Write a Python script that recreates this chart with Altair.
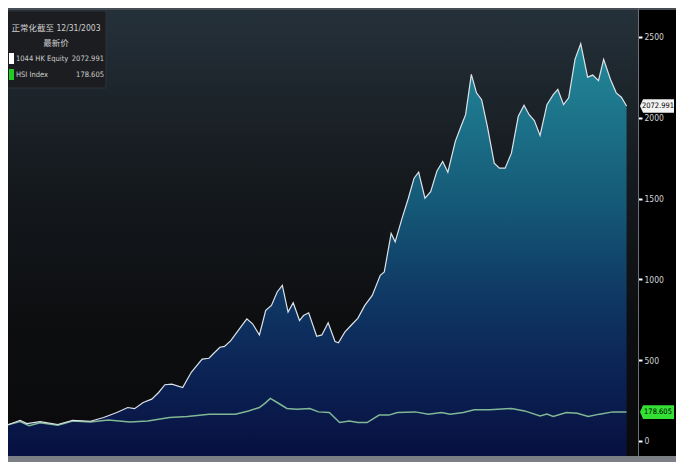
import altair as alt
import pandas as pd

# ---- data (normalised to 100 at 12/31/2003) ----
# x: months since 2003-12-31
months_eq = [0, 2.1, 3.3, 5.6, 8.7, 11.3, 14.4, 16.7, 19.0, 20.9, 22.1, 23.6, 25.1, 26.3, 27.4,
             28.6, 30.5, 32.0, 33.9, 35.1, 35.8, 37.0, 37.8, 38.9, 40.4, 41.7, 42.7, 43.9, 45.0,
             46.0, 47.0, 47.9, 48.9, 49.8, 50.9, 51.6, 52.5, 53.9, 54.8, 55.9, 57.1, 57.7, 58.8,
             60.0, 61.1, 62.3, 63.6, 65.0, 65.7, 66.9, 67.6, 68.8, 69.9, 70.9, 71.7, 72.8, 73.8,
             74.9, 75.9, 76.8, 78.1, 79.1, 79.9, 80.9, 81.8, 82.7, 83.7, 84.9, 85.8, 86.8, 87.9,
             89.1, 90.1, 91.0, 91.9, 92.9, 94.1, 95.2, 96.0, 97.0, 97.9, 99.0, 100.0, 101.2, 102.1,
             103.1, 104.0, 105.2, 106.2, 107.1, 108.0]
values_eq = [100, 128, 108, 120, 102, 128, 122, 145, 176, 207, 200, 238, 259, 300, 348,
             352, 331, 425, 507, 512, 538, 580, 585, 621, 694, 756, 725, 656, 808,
             839, 922, 963, 797, 855, 745, 776, 793, 648, 656, 731, 615, 607, 673,
             719, 760, 839, 901, 1025, 1046, 1284, 1232, 1377, 1502, 1626, 1663, 1502, 1543,
             1671, 1729, 1663, 1854, 1947, 2019, 2268, 2154, 2112, 1947, 1719, 1688, 1688, 1781,
             2009, 2077, 2019, 1982, 1891, 2081, 2143, 2175, 2081, 2123, 2361, 2458, 2251, 2264,
             2230, 2361, 2237, 2154, 2127, 2072.991]

months_hsi = [0, 2.1, 3.7, 5.6, 8.7, 11.3, 14.4, 17.5, 21.3, 24.4, 28.2, 31.3, 35.1, 39.7, 42.0,
              43.9, 44.9, 45.8, 47.0, 48.7, 50.4, 52.7, 54.2, 56.1, 57.9, 59.6, 61.1, 62.7, 64.8,
              66.5, 68.0, 71.1, 73.4, 75.7, 77.2, 79.5, 81.4, 84.1, 87.9, 90.2, 92.9, 94.1, 95.2,
              97.5, 99.4, 101.3, 103.3, 105.6, 108.0]
values_hsi = [100, 120, 95, 112, 98, 124, 118, 130, 118, 124, 145, 151, 166, 166, 186,
              207, 234, 263, 238, 201, 197, 201, 180, 176, 114, 124, 114, 114, 160,
              160, 176, 180, 166, 176, 166, 176, 193, 193, 201, 186, 155, 166, 151,
              176, 172, 151, 166, 180, 178.605]

legend_title = ["正常化截至 12/31/2003", "最新价"]
series_names = ["1044 HK Equity", "HSI Index"]
last_labels = ["2072.991", "178.605"]
last_values = [2072.991, 178.605]
y_ticks = [0, 500, 1000, 1500, 2000, 2500]

W, H = 630, 448
FONT = "'Liberation Sans Narrow', 'DejaVu Sans Condensed', 'Noto Sans CJK SC', sans-serif"

xs = alt.Scale(domain=[0, 110], nice=False, zero=False)
ys = alt.Scale(domain=[-93, 2679], nice=False, zero=False)
y_axis = alt.Axis(
    orient="right", values=y_ticks, format="d", grid=False, title=None,
    labelColor="#d4d4d4", labelFontSize=8.5, labelFont=FONT, labelPadding=2,
    tickColor="#ffffff", tickSize=4, tickWidth=2,
    domainColor="#6b7178", domainWidth=1, zindex=2)


def Y():
    return alt.Y("v:Q", scale=ys, axis=y_axis)


eq = pd.DataFrame({"m": months_eq, "v": values_eq})
hsi = pd.DataFrame({"m": months_hsi, "v": values_hsi})
one = pd.DataFrame({"a": [0]})

bg = alt.Chart(one).mark_rect(
    color=alt.Gradient(gradient="linear", x1=0, y1=0, x2=0, y2=1,
                       stops=[alt.GradientStop(offset=0, color="#25313a"),
                              alt.GradientStop(offset=0.35, color="#161b20"),
                              alt.GradientStop(offset=0.7, color="#0d0e10"),
                              alt.GradientStop(offset=1, color="#0a0a0b")])
).encode(x=alt.value(0), x2=alt.value(W), y=alt.value(0), y2=alt.value(H))

area = alt.Chart(eq).mark_area(
    color=alt.Gradient(gradient="linear", x1=0, y1=0, x2=0, y2=1,
                       stops=[alt.GradientStop(offset=0, color="#23899a"),
                              alt.GradientStop(offset=0.38, color="#155a78"),
                              alt.GradientStop(offset=0.62, color="#0f3763"),
                              alt.GradientStop(offset=0.81, color="#0b2254"),
                              alt.GradientStop(offset=1, color="#071040")])
).encode(
    x=alt.X("m:Q", scale=xs, axis=None),
    y=Y(),
    y2=alt.datum(-93),
)

line_eq = alt.Chart(eq).mark_line(color="#dde3e8", strokeWidth=1.2).encode(
    x=alt.X("m:Q", scale=xs, axis=None), y=Y())
line_hsi = alt.Chart(hsi).mark_line(color="#80b896", strokeWidth=1.5).encode(
    x=alt.X("m:Q", scale=xs, axis=None), y=Y())

tags_df = pd.DataFrame({"v": last_values, "t": last_labels, "c": ["#f2f2f2", "#33e033"]})
tag_shape = "M-1,0L-0.82,-0.4L1,-0.4L1,0.4L-0.82,0.4Z"
tags = alt.Chart(tags_df).mark_point(shape=tag_shape, size=1156, filled=True, opacity=1).encode(
    x=alt.value(649), y=Y(), color=alt.Color("c:N", scale=None))
tag_text = alt.Chart(tags_df).mark_text(fontSize=7.5, font=FONT, color="#000000").encode(
    x=alt.value(650), y=Y(), text="t:N")

top_bar = alt.Chart(one).mark_rect(color="#474d55").encode(
    x=alt.value(0), x2=alt.value(668), y=alt.value(0), y2=alt.value(2))
bottom_bar = alt.Chart(one).mark_rect(color="#7c8086").encode(
    x=alt.value(0), x2=alt.value(668), y=alt.value(H), y2=alt.value(H + 6))

legend_box = alt.Chart(one).mark_rect(color="#1b1d20", stroke="#2e3236", strokeWidth=1).encode(
    x=alt.value(-1), x2=alt.value(98), y=alt.value(3), y2=alt.value(80))
swatches = []
for c, yy in zip(["#ffffff", "#22cc22"], [45, 61]):
    swatches.append(alt.Chart(one).mark_rect(color=c).encode(
        x=alt.value(1), x2=alt.value(6), y=alt.value(yy), y2=alt.value(yy + 11)))


def txt(s, x, y, align, size):
    return alt.Chart(pd.DataFrame({"t": [s]})).mark_text(
        align=align, baseline="middle", font=FONT, fontSize=size, color="#cfcfcf"
    ).encode(x=alt.value(x), y=alt.value(y), text="t:N")


texts = [
    txt(legend_title[0], 48, 20, "center", 8.5),
    txt(legend_title[1], 48, 35, "center", 8.5),
    txt(series_names[0], 8, 51, "left", 7.5),
    txt(last_labels[0], 96, 51, "right", 7.5),
    txt(series_names[1], 8, 67, "left", 7.5),
    txt(last_labels[1], 96, 67, "right", 7.5),
]

chart = alt.layer(
    bg, area, line_hsi, line_eq, tags, tag_text, top_bar, bottom_bar,
    legend_box, *swatches, *texts
).properties(
    width=W, height=H, autosize="none",
    padding={"left": 0, "top": 0, "right": 38, "bottom": 6},
    background="#000000",
).configure_view(strokeWidth=0)

chart.save("out.html", embed_options={"renderer": "svg", "actions": False})
